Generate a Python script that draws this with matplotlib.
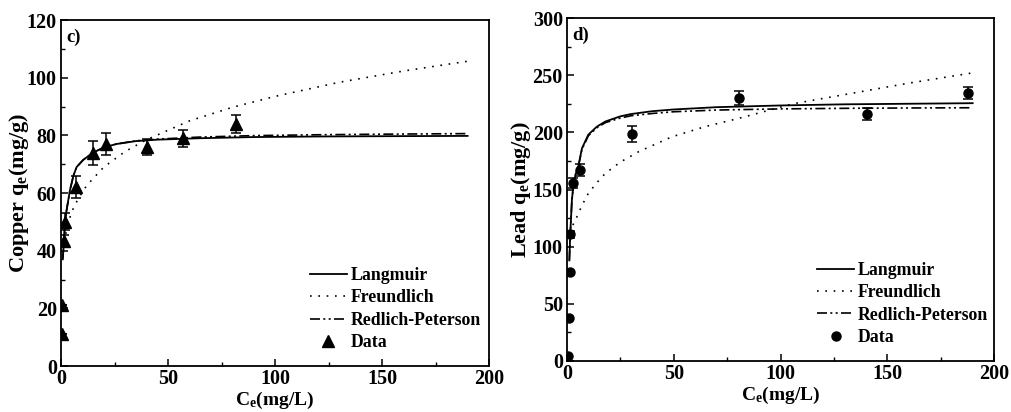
import matplotlib
matplotlib.use("Agg")
import matplotlib.pyplot as plt
from matplotlib.ticker import MultipleLocator

plt.rcParams['font.family'] = ['Liberation Serif', 'DejaVu Serif']
plt.rcParams['font.weight'] = 'bold'
plt.rcParams['mathtext.fontset'] = 'custom'
plt.rcParams['mathtext.rm'] = 'Liberation Serif:bold'
plt.rcParams['mathtext.it'] = 'Liberation Serif:bold'
plt.rcParams['mathtext.bf'] = 'Liberation Serif:bold'

# ---------------- Copper (panel c) ----------------
cu_data_c = [0.5, 0.7, 1.5, 2.0, 7.0, 15.0, 21.0, 40.0, 57.0, 82.0]
cu_data_q = [11, 21, 43.5, 50, 62, 74, 77, 76, 79, 84]
cu_data_err = [0, 0, 2.0, 3.0, 3.9, 4.2, 3.8, 2.9, 2.9, 3.2]

cu_lang_c = [0.8, 1.1, 1.9, 2.6, 4.2, 5.8, 7.3, 10.4, 15, 20, 26, 35, 45, 65, 90, 120, 150, 190]
cu_lang_q = [37, 40, 50, 54, 61, 66, 69, 71.5, 74, 75.8, 77, 78, 78.5, 79, 79.4, 79.6, 79.7, 79.8]

cu_freu_c = [1.5, 2, 3, 5, 8, 12, 20, 30, 40, 60, 80, 100, 130, 160, 190]
cu_freu_q = [43, 45, 48.5, 53.5, 58, 62.6, 69, 74.4, 78.5, 85, 89.7, 93.5, 98.4, 102.3, 105.7]

cu_rp_c = [0.8, 1.1, 1.9, 2.6, 4.2, 5.8, 7.3, 10.4, 15, 20, 26, 35, 45, 65, 90, 120, 150, 190]
cu_rp_q = [37, 40, 50, 54, 61, 66, 69, 71.5, 74, 75.8, 77, 78.1, 78.7, 79.4, 79.9, 80.2, 80.4, 80.6]

# ---------------- Lead (panel d) ----------------
pb_data_c = [0.5, 1.0, 1.2, 1.5, 2.8, 6.1, 30.6, 80.5, 140.5, 187.8]
pb_data_q = [4, 38, 78, 111, 155.5, 167, 198.5, 230, 216, 234.5]
pb_data_err = [0, 0, 0, 3, 4.4, 5.1, 7.0, 6.3, 5.0, 5.5]

pb_lang_c = [1.1, 1.5, 2.3, 3.1, 4.0, 5.4, 7, 10, 14, 18, 25, 30, 40, 50, 70, 100, 130, 160, 190]
pb_lang_q = [88, 110, 141, 155, 163, 171, 186, 198, 205, 209.5, 214, 216, 218.5, 220, 222, 223.5, 224.5, 225, 225.5]

pb_freu_c = [1.5, 2.5, 4.6, 7, 10, 14, 17.9, 25, 33.5, 49, 64.7, 80, 106, 130, 160, 190]
pb_freu_q = [112, 118, 126, 136, 146.7, 156, 164, 174, 183, 196, 205, 212, 225, 233, 243, 252]

pb_rp_c = [1.1, 1.5, 2.3, 3.1, 4.0, 5.4, 7, 10, 14, 18, 25, 30, 40, 50, 70, 100, 130, 160, 190]
pb_rp_q = [88, 110, 141, 155, 163, 171, 185, 197, 204, 208.5, 212.5, 214.5, 216.5, 218, 219.5, 220.5, 221, 221.3, 221.5]

legend_labels = ['Langmuir', 'Freundlich', 'Redlich-Peterson', 'Data']

fig = plt.figure(figsize=(10.11, 4.12), dpi=100)
ax1 = fig.add_axes([61/1011, 1-366/412, 428/1011, 346/412])
ax2 = fig.add_axes([567/1011, 1-361/412, 427/1011, 343/412])

rp_style = (0, (6, 2, 1.2, 2, 1.2, 2))
fr_style = (0, (1, 4))


def draw(ax, lc, lq, fc, fq, rc, rq, dc, dq, de, marker, ms, ylim, ymaj, ymin, ylabel, tag, legpos, ylpad):
    h1, = ax.plot(lc, lq, color='black', lw=1.3, ls='-')
    h2, = ax.plot(fc, fq, color='black', lw=1.2, ls=fr_style)
    h3, = ax.plot(rc, rq, color='black', lw=1.2, ls=rp_style)
    err = [e if e > 0 else 0 for e in de]
    ax.errorbar(dc, dq, yerr=err, fmt='none', ecolor='black', elinewidth=1.1, capsize=3.5, capthick=1.1)
    h4, = ax.plot(dc, dq, ls='none', marker=marker, ms=ms, color='black')
    ax.set_xlim(0, 200)
    ax.set_ylim(*ylim)
    ax.xaxis.set_major_locator(MultipleLocator(50))
    ax.xaxis.set_minor_locator(MultipleLocator(25))
    ax.yaxis.set_major_locator(MultipleLocator(ymaj))
    ax.yaxis.set_minor_locator(MultipleLocator(ymin))
    ax.tick_params(which='major', direction='in', length=5, width=1.1, labelsize=14.5, pad=3)
    ax.tick_params(axis='x', which='major', pad=2.5)
    ax.tick_params(which='minor', direction='in', length=3, width=1.0)
    ax.tick_params(top=False, right=False, which='both')
    for lab in ax.get_xticklabels() + ax.get_yticklabels():
        lab.set_fontweight('bold')
    for sp in ax.spines.values():
        sp.set_linewidth(1.3)
    ax.set_xlabel(r'C$_{\mathrm{e}}$(mg/L)', fontsize=14, fontweight='bold', labelpad=0)
    ax.set_ylabel(ylabel, fontsize=16, fontweight='bold', labelpad=ylpad)
    ax.text(0.012, 0.975, tag, transform=ax.transAxes, fontsize=13.5, fontweight='bold', va='top', ha='left')
    ax.legend([h1, h2, h3, h4], legend_labels, loc='lower right', bbox_to_anchor=legpos,
              frameon=False, prop={'weight': 'bold', 'size': 12.8}, handlelength=2.1,
              handletextpad=0.2, labelspacing=0.3, borderaxespad=0, borderpad=0)


draw(ax1, cu_lang_c, cu_lang_q, cu_freu_c, cu_freu_q, cu_rp_c, cu_rp_q,
     cu_data_c, cu_data_q, cu_data_err, '^', 8, (0, 120), 20, 10,
     r'Copper q$_{\mathrm{e}}$(mg/g)', 'c)', (0.981, 0.043), -3)
draw(ax2, pb_lang_c, pb_lang_q, pb_freu_c, pb_freu_q, pb_rp_c, pb_rp_q,
     pb_data_c, pb_data_q, pb_data_err, 'o', 6.5, (0, 300), 50, 25,
     r'Lead q$_{\mathrm{e}}$(mg/g)', 'd)', (0.986, 0.044), 0)

fig.savefig('out.png', dpi=100)
